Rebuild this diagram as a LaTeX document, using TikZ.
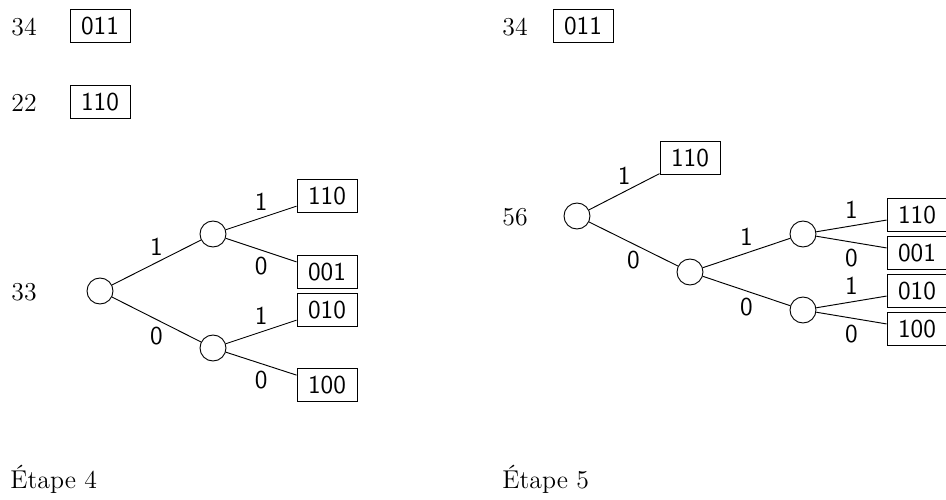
\documentclass[tikz,border=0pt]{standalone}
\usepackage{tikz}
\usetikzlibrary{positioning}
\tikzset{
    hufleaf/.style={draw, font=\sffamily, minimum width=0.9cm, minimum height=0.5cm, inner sep=2pt},
    hufnode/.style={draw, circle, minimum size=0.39cm, inner sep=0pt},
    hufweight/.style={inner sep=2pt},
    hufbit/.style={font=\sffamily, inner sep=3pt},
    hufedge/.style={thin}
}
\begin{document}
\fontsize{11pt}{13pt}\selectfont
\begin{tikzpicture}
        \useasboundingbox (0,0) rectangle (14.19,-7.5);

        % Etape 4
        \node[hufweight] (a34) at (0.36,-0.405) {34};
        \node[hufleaf] (a011) at (1.5,-0.39) {011};
        \node[hufweight] (a22) at (0.36,-1.545) {22};
        \node[hufleaf] (a110) at (1.5,-1.53) {110};
        \node[hufweight] (a33) at (0.36,-4.38) {33};
        \node[hufnode] (aroot) at (1.5,-4.365) {};
        \node[hufnode] (aup) at (3.195,-3.51) {};
        \node[hufnode] (alow) at (3.195,-5.22) {};
        \node[hufleaf] (aleaf1) at (4.905,-2.94) {110};
        \node[hufleaf] (aleaf2) at (4.905,-4.08) {001};
        \node[hufleaf] (aleaf3) at (4.905,-4.65) {010};
        \node[hufleaf] (aleaf4) at (4.905,-5.775) {100};
        \node[anchor=base west, inner sep=0pt] (astep) at (0.15,-7.32) {Étape 4};

        \draw[hufedge] (aroot) -- node[hufbit, midway, above] {1} (aup);
        \draw[hufedge] (aroot) -- node[hufbit, midway, below] {0} (alow);
        \draw[hufedge] (aup) -- node[hufbit, midway, above] {1} (aleaf1);
        \draw[hufedge] (aup) -- node[hufbit, midway, below] {0} (aleaf2);
        \draw[hufedge] (alow) -- node[hufbit, midway, above] {1} (aleaf3);
        \draw[hufedge] (alow) -- node[hufbit, midway, below] {0} (aleaf4);

        % Etape 5
        \node[hufweight] (b34) at (7.725,-0.405) {34};
        \node[hufleaf] (b011) at (8.745,-0.39) {011};
        \node[hufweight] (b56) at (7.725,-3.255) {56};
        \node[hufnode] (broot) at (8.655,-3.24) {};
        \node[hufleaf] (btop) at (10.35,-2.37) {110};
        \node[hufnode] (bmid) at (10.35,-4.08) {};
        \node[hufnode] (bup) at (12.045,-3.51) {};
        \node[hufnode] (blow) at (12.045,-4.65) {};
        \node[hufleaf] (bleaf1) at (13.755,-3.225) {110};
        \node[hufleaf] (bleaf2) at (13.755,-3.795) {001};
        \node[hufleaf] (bleaf3) at (13.755,-4.365) {010};
        \node[hufleaf] (bleaf4) at (13.755,-4.935) {100};
        \node[anchor=base west, inner sep=0pt] (bstep) at (7.53,-7.32) {Étape 5};

        \draw[hufedge] (broot) -- node[hufbit, midway, above] {1} (btop);
        \draw[hufedge] (broot) -- node[hufbit, midway, below] {0} (bmid);
        \draw[hufedge] (bmid) -- node[hufbit, midway, above] {1} (bup);
        \draw[hufedge] (bmid) -- node[hufbit, midway, below] {0} (blow);
        \draw[hufedge] (bup) -- node[hufbit, midway, above] {1} (bleaf1);
        \draw[hufedge] (bup) -- node[hufbit, midway, below] {0} (bleaf2);
        \draw[hufedge] (blow) -- node[hufbit, midway, above] {1} (bleaf3);
        \draw[hufedge] (blow) -- node[hufbit, midway, below] {0} (bleaf4);
    \end{tikzpicture}
\end{document}
